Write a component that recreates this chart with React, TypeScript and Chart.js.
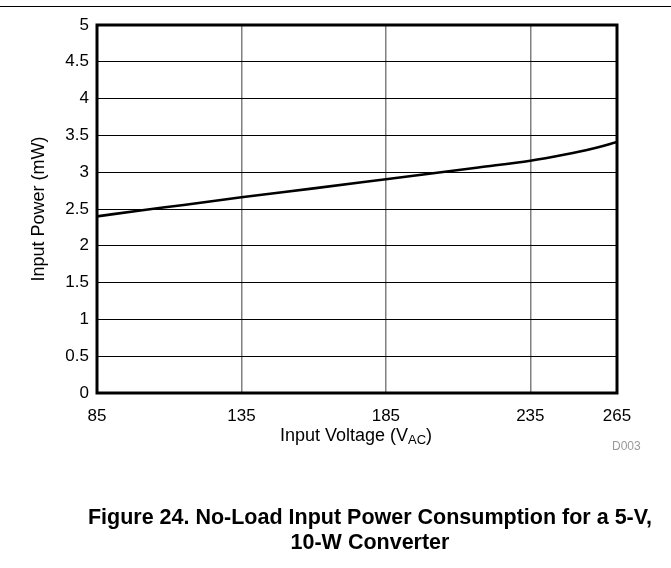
import { useEffect, useRef } from "react";
import { Chart, registerables } from "chart.js";
import type { ChartConfiguration, Plugin } from "chart.js";

Chart.register(...registerables);

// input voltage (VAC) and no-load input power (mW)
const voltage = [85, 100, 115, 135, 160, 185, 200, 217, 235, 247, 256, 265];
const power = [2.4, 2.48, 2.555, 2.66, 2.78, 2.905, 2.98, 3.065, 3.155, 3.24, 3.315, 3.41];

const xTicks = [85, 135, 185, 235, 265];
const yTicks = [0, 0.5, 1, 1.5, 2, 2.5, 3, 3.5, 4, 4.5, 5];

const FONT = "'Liberation Sans', Arial, Helvetica, sans-serif";

// heavy black frame around the plot area
const framePlugin: Plugin<"line"> = {
  id: "frame",
  afterDatasetsDraw(chart) {
    const { ctx, chartArea } = chart;
    ctx.save();
    ctx.strokeStyle = "#000";
    ctx.lineWidth = 3;
    ctx.strokeRect(chartArea.left, chartArea.top, chartArea.right - chartArea.left, chartArea.bottom - chartArea.top);
    ctx.restore();
  },
};

export default function App() {
  const canvasRef = useRef<HTMLCanvasElement | null>(null);
  const chartRef = useRef<Chart<"line", { x: number; y: number }[]> | null>(null);

  useEffect(() => {
    if (!canvasRef.current) return;
    chartRef.current?.destroy();

    const config: ChartConfiguration<"line", { x: number; y: number }[]> = {
      type: "line",
      data: {
        datasets: [
          {
            data: voltage.map((v, i) => ({ x: v, y: power[i] })),
            borderColor: "#000",
            borderWidth: 2.6,
            pointRadius: 0,
            fill: false,
            cubicInterpolationMode: "monotone",
          },
        ],
      },
      options: {
        animation: false,
        responsive: true,
        maintainAspectRatio: false,
        layout: { padding: { left: 0, top: 25, right: 54, bottom: 135 } },
        plugins: {
          legend: { display: false },
          tooltip: { enabled: false },
        },
        scales: {
          x: {
            type: "linear",
            min: 85,
            max: 265,
            afterBuildTicks: (s) => {
              s.ticks = xTicks.map((v) => ({ value: v }));
            },
            afterFit: (s) => {
              s.height = 40;
            },
            grid: { color: "#808080", lineWidth: 1.5, drawTicks: false },
            border: { display: false },
            ticks: {
              color: "#000",
              font: { family: FONT, size: 17 },
              padding: 13,
              maxRotation: 0,
              autoSkip: false,
              callback: (v) => String(v),
            },
          },
          y: {
            min: 0,
            max: 5,
            afterBuildTicks: (s) => {
              s.ticks = yTicks.map((v) => ({ value: v }));
            },
            afterFit: (s) => {
              s.width = 97;
            },
            grid: { color: "#000", lineWidth: 1, drawTicks: false },
            border: { display: false },
            ticks: {
              color: "#000",
              font: { family: FONT, size: 17 },
              padding: 8,
              autoSkip: false,
              callback: (v) => String(v),
            },
            title: {
              display: true,
              text: "Input Power (mW)",
              color: "#000",
              font: { family: FONT, size: 18 },
              padding: { top: 28, bottom: 0 },
            },
          },
        },
      },
      plugins: [framePlugin],
    };

    chartRef.current = new Chart(canvasRef.current, config);
    return () => {
      chartRef.current?.destroy();
      chartRef.current = null;
    };
  }, []);

  return (
    <div style={{ position: "fixed", left: 0, top: 0, width: 671, height: 568, background: "#fff", fontFamily: FONT, color: "#000" }}>
      <div style={{ position: "absolute", left: 0, top: 6, width: 671, height: 1, background: "#000" }} />
      <canvas ref={canvasRef} style={{ position: "absolute", left: 0, top: 0 }} />
      <div
        style={{
          position: "absolute",
          left: 356,
          top: 425,
          transform: "translateX(-50%)",
          fontSize: 18,
          lineHeight: "20px",
          whiteSpace: "nowrap",
        }}
      >
        Input Voltage (V<sub style={{ fontSize: 13, verticalAlign: "-3px", lineHeight: 0 }}>AC</sub>)
      </div>
      <div style={{ position: "absolute", left: 612, top: 439, fontSize: 12, color: "#999", lineHeight: "14px" }}>D003</div>
      <div
        style={{
          position: "absolute",
          left: 370,
          top: 505,
          transform: "translateX(-50%)",
          fontSize: 21.5,
          fontWeight: "bold",
          lineHeight: "25px",
          textAlign: "center",
          whiteSpace: "nowrap",
        }}
      >
        Figure 24. No-Load Input Power Consumption for a 5-V,
        <br />
        10-W Converter
      </div>
    </div>
  );
}
